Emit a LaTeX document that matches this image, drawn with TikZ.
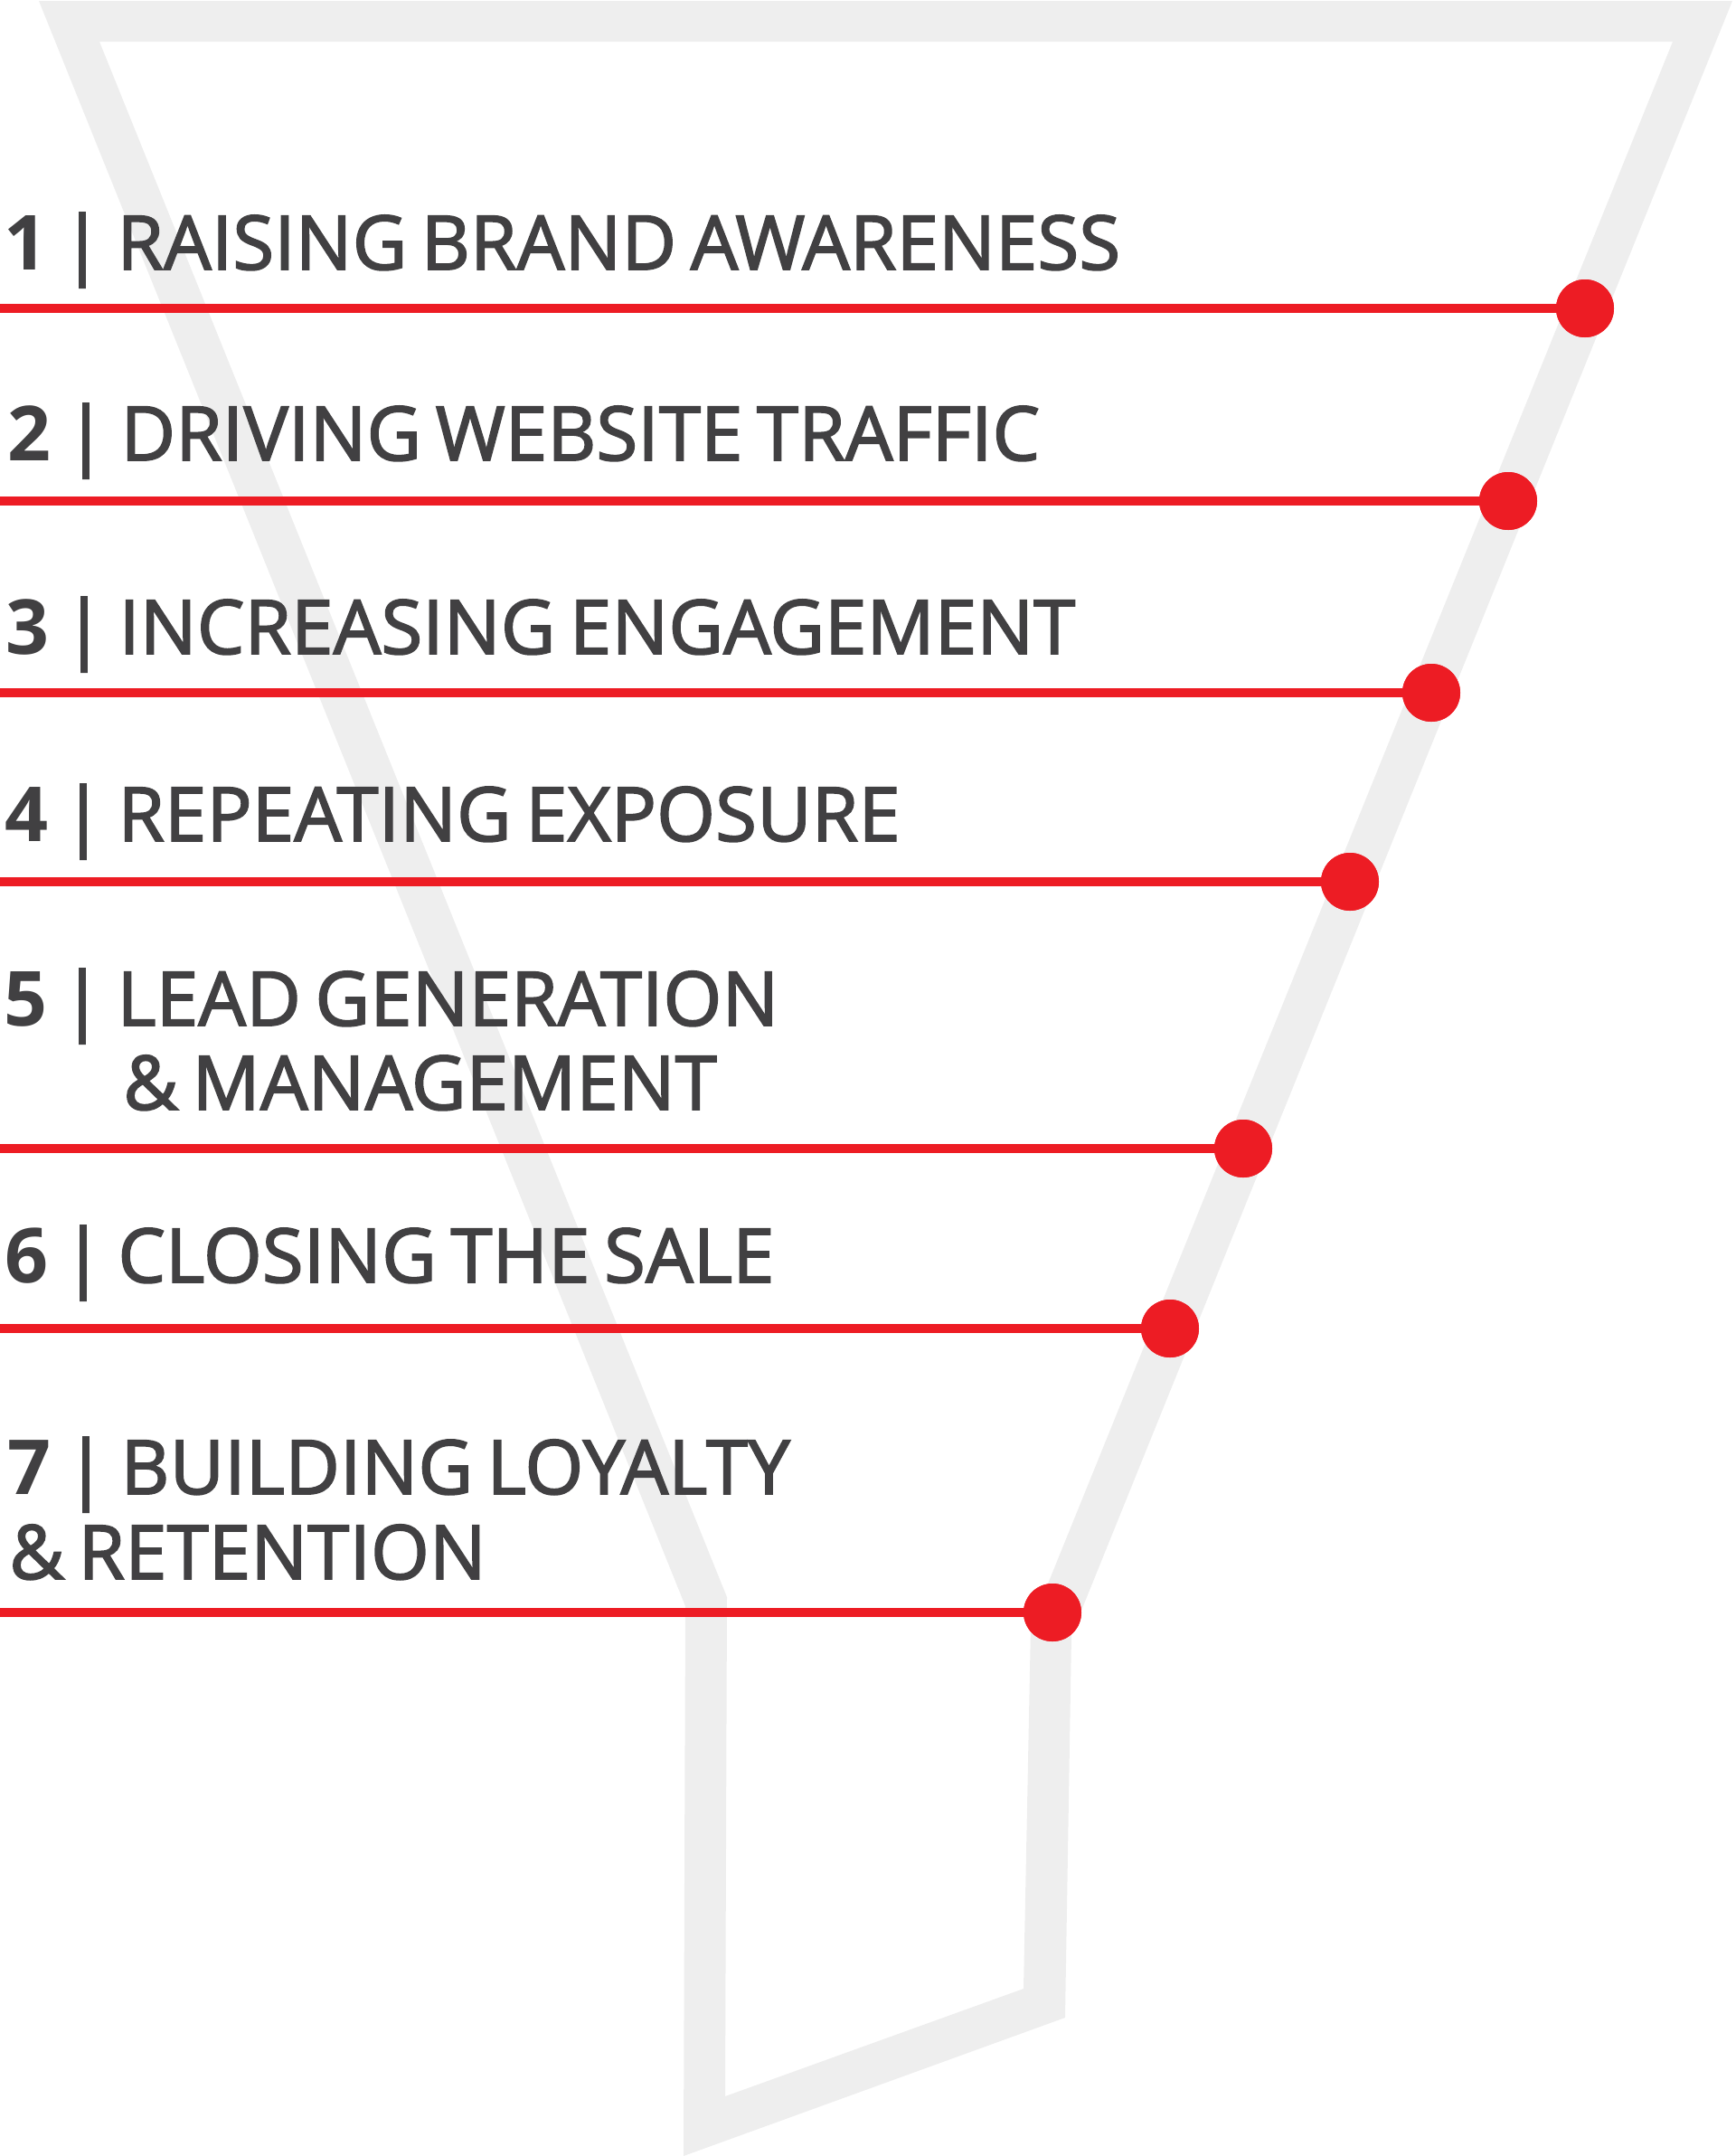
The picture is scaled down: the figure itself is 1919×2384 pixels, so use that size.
\documentclass[tikz,border=0pt]{standalone}
\usepackage{fontspec}
\setmainfont{Open Sans}
\newfontfamily\labfont{Open Sans}[FakeBold=2.2, LetterSpace=0.4, WordSpace=0.72]
\definecolor{funnelgray}{HTML}{EEEEEE}
\definecolor{stagered}{HTML}{ED1C24}
\definecolor{textgray}{HTML}{414042}
\tikzset{
  funnelshape/.style={fill=funnelgray, even odd rule},
  redline/.style={draw=stagered, line width=5pt},
  dotnode/.style={circle, fill=stagered, minimum size=32pt, inner sep=0pt},
  stagetext/.style={anchor=base west, inner sep=0pt, text=textgray, font=\labfont\fontsize{41.5}{47}\selectfont},
}
\newcommand{\num}[1]{{\normalfont\bfseries\fontsize{42}{47}\selectfont #1}}
\begin{document}
\begin{tikzpicture}[x=0.5pt, y=-0.5pt]
\useasboundingbox (0,0) rectangle (1919,2384);
% funnel outline
\fill[funnelshape]
  (43,1) -- (1916,1) -- (1185,1808) -- (1178,2231) -- (756,2384) -- (758,1776) -- cycle
  (110,46) -- (1850,46) -- (1140,1798) -- (1132,2199) -- (802,2318) -- (804,1766) -- cycle;
% dots
\node[dotnode] (d1) at (1753,341) {};
\node[dotnode] (d2) at (1668,554) {};
\node[dotnode] (d3) at (1583,766) {};
\node[dotnode] (d4) at (1493,975) {};
\node[dotnode] (d5) at (1375,1270) {};
\node[dotnode] (d6) at (1294,1469) {};
\node[dotnode] (d7) at (1164,1783) {};
% line starts
\coordinate (s1) at (0,341);
\coordinate (s2) at (0,554);
\coordinate (s3) at (0,766);
\coordinate (s4) at (0,975);
\coordinate (s5) at (0,1270);
\coordinate (s6) at (0,1469);
\coordinate (s7) at (0,1783);
\foreach \i in {1,...,7} {\draw[redline] (s\i) -- (d\i.center);}
\foreach \i in {1,...,7} {\node[dotnode] at (d\i) {};}
% texts
\node[stagetext] (t1) at (4,298) {\num{1} | RAISING BRAND AWARENESS};
\node[stagetext] (t2) at (8,509) {\num{2} | DRIVING WEBSITE TRAFFIC};
\node[stagetext] (t3) at (6,723) {\num{3} | INCREASING ENGAGEMENT};
\node[stagetext] (t4) at (5,930) {\num{4} | REPEATING EXPOSURE};
\node[stagetext] (t5) at (4,1134) {\num{5} | LEAD GENERATION};
\node[stagetext] (t5b) at (136,1227) {\& MANAGEMENT};
\node[stagetext] (t6) at (5,1418) {\num{6} | CLOSING THE SALE};
\node[stagetext] (t7) at (8,1652) {\num{7} | BUILDING LOYALTY};
\node[stagetext] (t7b) at (10,1746) {\& RETENTION};
\end{tikzpicture}
\end{document}
